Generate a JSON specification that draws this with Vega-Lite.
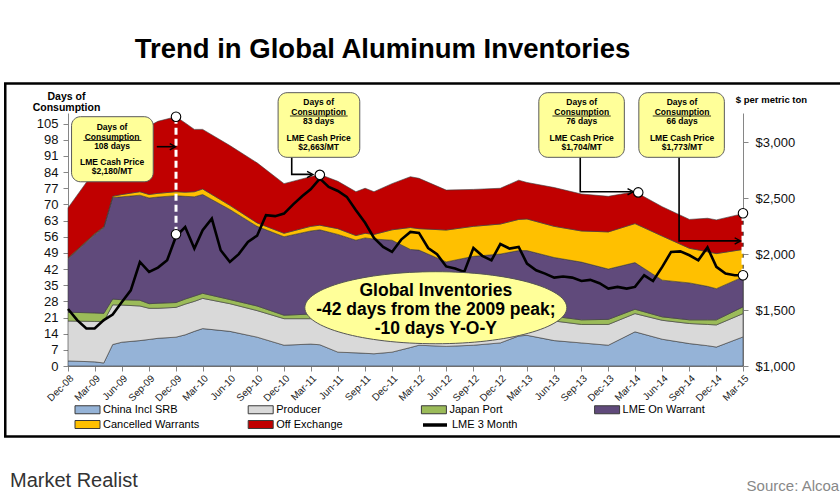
{
  "$schema": "https://vega.github.io/schema/vega-lite/v6.json",
  "width": 675,
  "height": 253,
  "autosize": {"type": "none"},
  "padding": {"left": 68, "top": 113, "right": 97, "bottom": 134},
  "background": "white",
  "config": {"font": "Liberation Sans", "view": {"stroke": null}, "axis": {"labelOverlap": false}},
  "title": {"text": "Trend in Global Aluminum Inventories", "fontSize": 27.5, "font": "Liberation Sans", "fontWeight": "bold", "color": "#000000", "anchor": "middle", "frame": "group", "dx": -23, "offset": 19},
  "datasets": {
    "inv": [
      {"date": "2008-12-01T00:00:00", "C": 2.2, "P": 19.5, "J": 23.3, "W": 46.5, "X": 46.8, "O": 68.5},
      {"date": "2009-03-01T00:00:00", "C": 1.8, "P": 19.3, "J": 23.0, "W": 57.0, "X": 57.3, "O": 84.5},
      {"date": "2009-04-01T00:00:00", "C": 1.3, "P": 19.3, "J": 22.8, "W": 60.0, "X": 60.3, "O": 88.5},
      {"date": "2009-05-01T00:00:00", "C": 9.3, "P": 26.5, "J": 29.0, "W": 73.0, "X": 73.5, "O": 92.0},
      {"date": "2009-06-01T00:00:00", "C": 10.3, "P": 26.4, "J": 28.7, "W": 73.3, "X": 74.3, "O": 95.5},
      {"date": "2009-08-01T00:00:00", "C": 11.0, "P": 26.0, "J": 28.5, "W": 74.0, "X": 75.5, "O": 102.0},
      {"date": "2009-09-01T00:00:00", "C": 11.5, "P": 25.0, "J": 27.0, "W": 72.8, "X": 74.3, "O": 104.0},
      {"date": "2009-10-01T00:00:00", "C": 12.0, "P": 25.0, "J": 27.2, "W": 73.2, "X": 74.8, "O": 106.0},
      {"date": "2009-12-01T00:00:00", "C": 12.5, "P": 25.4, "J": 27.5, "W": 73.8, "X": 75.5, "O": 108.0},
      {"date": "2010-01-01T00:00:00", "C": 13.5, "P": 26.8, "J": 29.0, "W": 73.5, "X": 75.3, "O": 105.3},
      {"date": "2010-02-01T00:00:00", "C": 15.0, "P": 28.0, "J": 30.3, "W": 73.3, "X": 75.5, "O": 102.5},
      {"date": "2010-03-01T00:00:00", "C": 16.2, "P": 29.3, "J": 31.5, "W": 74.3, "X": 76.7, "O": 102.5},
      {"date": "2010-06-01T00:00:00", "C": 15.0, "P": 27.0, "J": 28.8, "W": 67.8, "X": 69.6, "O": 95.5},
      {"date": "2010-09-01T00:00:00", "C": 12.5, "P": 24.0, "J": 26.0, "W": 60.5, "X": 62.0, "O": 88.0},
      {"date": "2010-12-01T00:00:00", "C": 9.0, "P": 20.5, "J": 22.0, "W": 56.0, "X": 57.5, "O": 79.0},
      {"date": "2011-03-01T00:00:00", "C": 9.5, "P": 20.5, "J": 22.5, "W": 58.5, "X": 60.5, "O": 82.0},
      {"date": "2011-04-01T00:00:00", "C": 9.2, "P": 20.3, "J": 22.3, "W": 59.0, "X": 61.0, "O": 83.0},
      {"date": "2011-06-01T00:00:00", "C": 6.0, "P": 19.0, "J": 21.0, "W": 57.0, "X": 59.5, "O": 80.0},
      {"date": "2011-08-01T00:00:00", "C": 5.7, "P": 19.0, "J": 21.0, "W": 54.5, "X": 56.5, "O": 75.5},
      {"date": "2011-09-01T00:00:00", "C": 5.5, "P": 19.0, "J": 21.0, "W": 55.5, "X": 57.5, "O": 77.0},
      {"date": "2011-10-01T00:00:00", "C": 5.3, "P": 19.0, "J": 21.0, "W": 55.0, "X": 57.0, "O": 75.5},
      {"date": "2011-12-01T00:00:00", "C": 6.0, "P": 19.0, "J": 21.0, "W": 54.5, "X": 59.0, "O": 79.0},
      {"date": "2012-02-01T00:00:00", "C": 8.0, "P": 19.0, "J": 21.0, "W": 50.5, "X": 60.0, "O": 82.0},
      {"date": "2012-03-01T00:00:00", "C": 9.0, "P": 19.0, "J": 21.0, "W": 50.2, "X": 59.5, "O": 81.3},
      {"date": "2012-06-01T00:00:00", "C": 8.5, "P": 19.0, "J": 21.0, "W": 45.1, "X": 58.9, "O": 76.2},
      {"date": "2012-09-01T00:00:00", "C": 9.0, "P": 19.5, "J": 21.5, "W": 47.5, "X": 60.5, "O": 76.5},
      {"date": "2012-12-01T00:00:00", "C": 10.0, "P": 20.0, "J": 22.0, "W": 48.5, "X": 61.5, "O": 77.0},
      {"date": "2013-02-01T00:00:00", "C": 13.0, "P": 21.0, "J": 23.0, "W": 50.0, "X": 63.5, "O": 80.5},
      {"date": "2013-03-01T00:00:00", "C": 13.3, "P": 21.0, "J": 23.0, "W": 50.0, "X": 63.7, "O": 79.5},
      {"date": "2013-06-01T00:00:00", "C": 11.0, "P": 19.5, "J": 21.5, "W": 47.0, "X": 60.5, "O": 77.3},
      {"date": "2013-09-01T00:00:00", "C": 10.0, "P": 18.0, "J": 20.0, "W": 45.0, "X": 58.5, "O": 74.5},
      {"date": "2013-12-01T00:00:00", "C": 9.0, "P": 18.0, "J": 20.2, "W": 42.0, "X": 58.1, "O": 73.5},
      {"date": "2014-03-01T00:00:00", "C": 14.8, "P": 22.7, "J": 24.6, "W": 44.8, "X": 61.7, "O": 75.5},
      {"date": "2014-06-01T00:00:00", "C": 11.6, "P": 19.8, "J": 21.3, "W": 37.2, "X": 56.3, "O": 69.0},
      {"date": "2014-09-01T00:00:00", "C": 9.7, "P": 18.4, "J": 20.0, "W": 36.0, "X": 51.0, "O": 63.5},
      {"date": "2014-11-01T00:00:00", "C": 8.8, "P": 18.0, "J": 20.0, "W": 34.5, "X": 49.5, "O": 64.0},
      {"date": "2014-12-01T00:00:00", "C": 8.2, "P": 17.8, "J": 20.0, "W": 33.5, "X": 48.7, "O": 63.3},
      {"date": "2015-03-01T00:00:00", "C": 12.6, "P": 22.7, "J": 25.6, "W": 38.6, "X": 50.5, "O": 66.0}
    ],
    "lme": [
      {"date": "2008-12-01T00:00:00", "price": 1510},
      {"date": "2009-01-01T00:00:00", "price": 1410},
      {"date": "2009-02-01T00:00:00", "price": 1335},
      {"date": "2009-03-01T00:00:00", "price": 1335},
      {"date": "2009-04-01T00:00:00", "price": 1410},
      {"date": "2009-05-01T00:00:00", "price": 1460},
      {"date": "2009-06-01T00:00:00", "price": 1572},
      {"date": "2009-07-01T00:00:00", "price": 1677},
      {"date": "2009-08-01T00:00:00", "price": 1930},
      {"date": "2009-09-01T00:00:00", "price": 1841},
      {"date": "2009-10-01T00:00:00", "price": 1880},
      {"date": "2009-11-01T00:00:00", "price": 1945},
      {"date": "2009-12-01T00:00:00", "price": 2160},
      {"date": "2010-01-01T00:00:00", "price": 2243},
      {"date": "2010-02-01T00:00:00", "price": 2050},
      {"date": "2010-03-01T00:00:00", "price": 2214},
      {"date": "2010-04-01T00:00:00", "price": 2318},
      {"date": "2010-05-01T00:00:00", "price": 2035},
      {"date": "2010-06-01T00:00:00", "price": 1930},
      {"date": "2010-07-01T00:00:00", "price": 2000},
      {"date": "2010-08-01T00:00:00", "price": 2110},
      {"date": "2010-09-01T00:00:00", "price": 2165},
      {"date": "2010-10-01T00:00:00", "price": 2348},
      {"date": "2010-11-01T00:00:00", "price": 2340},
      {"date": "2010-12-01T00:00:00", "price": 2363},
      {"date": "2011-01-01T00:00:00", "price": 2445},
      {"date": "2011-02-01T00:00:00", "price": 2520},
      {"date": "2011-03-01T00:00:00", "price": 2580},
      {"date": "2011-04-01T00:00:00", "price": 2675},
      {"date": "2011-05-01T00:00:00", "price": 2601},
      {"date": "2011-06-01T00:00:00", "price": 2565},
      {"date": "2011-07-01T00:00:00", "price": 2512},
      {"date": "2011-08-01T00:00:00", "price": 2393},
      {"date": "2011-09-01T00:00:00", "price": 2280},
      {"date": "2011-10-01T00:00:00", "price": 2145},
      {"date": "2011-11-01T00:00:00", "price": 2064},
      {"date": "2011-12-01T00:00:00", "price": 2020},
      {"date": "2012-01-01T00:00:00", "price": 2130},
      {"date": "2012-02-01T00:00:00", "price": 2199},
      {"date": "2012-03-01T00:00:00", "price": 2190},
      {"date": "2012-04-01T00:00:00", "price": 2055},
      {"date": "2012-05-01T00:00:00", "price": 2000},
      {"date": "2012-06-01T00:00:00", "price": 1890},
      {"date": "2012-07-01T00:00:00", "price": 1871},
      {"date": "2012-08-01T00:00:00", "price": 1841},
      {"date": "2012-09-01T00:00:00", "price": 2055},
      {"date": "2012-10-01T00:00:00", "price": 1985},
      {"date": "2012-11-01T00:00:00", "price": 1945},
      {"date": "2012-12-01T00:00:00", "price": 2090},
      {"date": "2013-01-01T00:00:00", "price": 2050},
      {"date": "2013-02-01T00:00:00", "price": 2064},
      {"date": "2013-03-01T00:00:00", "price": 1916},
      {"date": "2013-04-01T00:00:00", "price": 1856},
      {"date": "2013-05-01T00:00:00", "price": 1826},
      {"date": "2013-06-01T00:00:00", "price": 1790},
      {"date": "2013-07-01T00:00:00", "price": 1800},
      {"date": "2013-08-01T00:00:00", "price": 1790},
      {"date": "2013-09-01T00:00:00", "price": 1760},
      {"date": "2013-10-01T00:00:00", "price": 1770},
      {"date": "2013-11-01T00:00:00", "price": 1740},
      {"date": "2013-12-01T00:00:00", "price": 1692},
      {"date": "2014-01-01T00:00:00", "price": 1707},
      {"date": "2014-02-01T00:00:00", "price": 1692},
      {"date": "2014-03-01T00:00:00", "price": 1707},
      {"date": "2014-04-01T00:00:00", "price": 1811},
      {"date": "2014-05-01T00:00:00", "price": 1760},
      {"date": "2014-06-01T00:00:00", "price": 1886},
      {"date": "2014-07-01T00:00:00", "price": 2020},
      {"date": "2014-08-01T00:00:00", "price": 2025},
      {"date": "2014-09-01T00:00:00", "price": 1990},
      {"date": "2014-10-01T00:00:00", "price": 1945},
      {"date": "2014-11-01T00:00:00", "price": 2060},
      {"date": "2014-12-01T00:00:00", "price": 1886},
      {"date": "2015-01-01T00:00:00", "price": 1826},
      {"date": "2015-02-01T00:00:00", "price": 1811},
      {"date": "2015-03-01T00:00:00", "price": 1811}
    ],
    "frame": [
      {"x1": "2008-05-03T00:00:00", "x2": "2016-02-05T00:00:00", "top": 122.4, "bot": -30.5}
    ],
    "dash": [
      {"date": "2009-12-01T00:00:00", "top": 108.0, "bot": 57.1},
      {"date": "2015-03-01T00:00:00", "top": 66.0, "bot": 39.3}
    ],
    "conn": [
      {"id": "a", "seq": 1, "date": "2009-09-27T00:00:00", "days": 95.0},
      {"id": "a", "seq": 2, "date": "2009-11-24T00:00:00", "days": 95.0},
      {"id": "b", "seq": 1, "date": "2010-12-27T00:00:00", "days": 90.4},
      {"id": "b", "seq": 2, "date": "2010-12-27T00:00:00", "days": 83.0},
      {"id": "b", "seq": 3, "date": "2011-03-03T00:00:00", "days": 83.0},
      {"id": "c", "seq": 1, "date": "2013-08-28T00:00:00", "days": 90.4},
      {"id": "c", "seq": 2, "date": "2013-08-28T00:00:00", "days": 75.5},
      {"id": "c", "seq": 3, "date": "2014-02-18T00:00:00", "days": 75.5},
      {"id": "d", "seq": 1, "date": "2014-07-28T00:00:00", "days": 90.4},
      {"id": "d", "seq": 2, "date": "2014-07-28T00:00:00", "days": 54.2},
      {"id": "d", "seq": 3, "date": "2015-02-15T00:00:00", "days": 54.2}
    ],
    "heads": [
      {"date": "2009-11-24T00:00:00", "days": 95.0},
      {"date": "2011-03-03T00:00:00", "days": 83.0},
      {"date": "2014-02-18T00:00:00", "days": 75.5},
      {"date": "2015-02-15T00:00:00", "days": 54.2}
    ],
    "boxes": [
      {"x1": "2008-12-13T00:00:00", "x2": "2009-09-15T00:00:00", "top": 108.0, "bot": 79.8},
      {"x1": "2010-11-11T00:00:00", "x2": "2011-08-14T00:00:00", "top": 118.4, "bot": 90.4},
      {"x1": "2013-04-10T00:00:00", "x2": "2014-01-24T00:00:00", "top": 118.4, "bot": 90.4},
      {"x1": "2014-03-14T00:00:00", "x2": "2014-12-28T00:00:00", "top": 118.4, "bot": 90.4}
    ],
    "btext": [
      {"date": "2009-04-29T00:00:00", "days": 103.4, "label": "Days of\nConsumption\n108 days"},
      {"date": "2009-04-29T00:00:00", "days": 88.5, "label": "LME Cash Price\n$2,180/MT"},
      {"date": "2011-03-28T00:00:00", "days": 114.3, "label": "Days of\nConsumption\n83 days"},
      {"date": "2011-03-28T00:00:00", "days": 98.9, "label": "LME Cash Price\n$2,663/MT"},
      {"date": "2013-09-02T00:00:00", "days": 114.3, "label": "Days of\nConsumption\n76 days"},
      {"date": "2013-09-02T00:00:00", "days": 98.9, "label": "LME Cash Price\n$1,704/MT"},
      {"date": "2014-08-07T00:00:00", "days": 114.3, "label": "Days of\nConsumption\n66 days"},
      {"date": "2014-08-07T00:00:00", "days": 98.9, "label": "LME Cash Price\n$1,773/MT"}
    ],
    "ul": [
      {"x1": "2009-01-22T00:00:00", "x2": "2009-08-06T00:00:00", "days": 97.7},
      {"x1": "2010-12-21T00:00:00", "x2": "2011-07-04T00:00:00", "days": 108.3},
      {"x1": "2013-05-26T00:00:00", "x2": "2013-12-09T00:00:00", "days": 108.3},
      {"x1": "2014-04-30T00:00:00", "x2": "2014-11-13T00:00:00", "days": 108.3}
    ],
    "ell": [
      {"date": "2012-04-27T00:00:00", "days": 25.25}
    ],
    "elltext": [
      {"date": "2012-04-27T00:00:00", "days": 32.4, "label": "Global Inventories\n-42 days from the 2009 peak;\n-10 days Y-O-Y"}
    ],
    "dots": [
      {"date": "2009-12-01T00:00:00", "days": 108.0},
      {"date": "2009-12-01T00:00:00", "days": 57.1},
      {"date": "2011-04-01T00:00:00", "days": 82.8},
      {"date": "2014-03-12T00:00:00", "days": 75.2},
      {"date": "2015-03-01T00:00:00", "days": 66.2},
      {"date": "2015-03-01T00:00:00", "days": 39.3}
    ],
    "brand": [
      {"date": "2008-05-19T00:00:00", "days": -50.0, "label": "Market Realist"}
    ],
    "source": [
      {"date": "2016-01-20T00:00:00", "days": -51.8, "label": "Source: Alcoa"}
    ]
  },
  "layer": [
    {
      "layer": [
        {
          "data": {"name": "inv"},
          "mark": {"type": "area", "stroke": "#3a3a3a", "strokeWidth": 0.6},
          "encoding": {
            "x": {
              "field": "date", "type": "temporal",
              "scale": {"domain": [{"year": 2008, "month": 12, "date": 1}, {"year": 2015, "month": 3, "date": 1}]},
              "axis": {
                "values": [
                  {"year": 2008, "month": 12, "date": 1},
                  {"year": 2009, "month": 3, "date": 1}, {"year": 2009, "month": 6, "date": 1}, {"year": 2009, "month": 9, "date": 1}, {"year": 2009, "month": 12, "date": 1},
                  {"year": 2010, "month": 3, "date": 1}, {"year": 2010, "month": 6, "date": 1}, {"year": 2010, "month": 9, "date": 1}, {"year": 2010, "month": 12, "date": 1},
                  {"year": 2011, "month": 3, "date": 1}, {"year": 2011, "month": 6, "date": 1}, {"year": 2011, "month": 9, "date": 1}, {"year": 2011, "month": 12, "date": 1},
                  {"year": 2012, "month": 3, "date": 1}, {"year": 2012, "month": 6, "date": 1}, {"year": 2012, "month": 9, "date": 1}, {"year": 2012, "month": 12, "date": 1},
                  {"year": 2013, "month": 3, "date": 1}, {"year": 2013, "month": 6, "date": 1}, {"year": 2013, "month": 9, "date": 1}, {"year": 2013, "month": 12, "date": 1},
                  {"year": 2014, "month": 3, "date": 1}, {"year": 2014, "month": 6, "date": 1}, {"year": 2014, "month": 9, "date": 1}, {"year": 2014, "month": 12, "date": 1},
                  {"year": 2015, "month": 3, "date": 1}
                ],
                "tickCount": 200,
                "format": "%b-%y", "labelAngle": -45, "labelFontSize": 10, "labelColor": "#222222",
                "domainColor": "#868686", "tickColor": "#868686", "tickSize": 5, "grid": false, "title": null,
                "labelPadding": 2, "labelOverlap": false, "labelFlush": false, "labelBound": false
              }
            },
            "y": {
              "field": "C", "type": "quantitative",
              "scale": {"domain": [0, 109.6], "nice": false},
              "axis": {
                "values": [0, 7, 14, 21, 28, 35, 42, 49, 56, 63, 70, 77, 84, 91, 98, 105],
                "tickCount": 200, "format": ".0f",
                "labelFontSize": 13, "labelColor": "#111111", "labelPadding": 5, "labelOverlap": false,
                "domainColor": "#868686", "tickColor": "#868686", "tickSize": 5, "grid": false,
                "title": ["Days of", "Consumption"], "titleAngle": 0, "titleAlign": "center", "titleBaseline": "bottom",
                "titleX": -2, "titleY": -12, "titleFontSize": 10.5, "titleFontWeight": "bold", "titleLineHeight": 11, "titleColor": "#000000"
              }
            },
            "y2": {"datum": 0},
            "fill": {
              "datum": "China Incl SRB", "type": "nominal",
              "scale": {
                "domain": ["China Incl SRB", "Producer", "Japan Port", "LME On Warrant", "Cancelled Warrants", "Off Exchange"],
                "range": ["#95B3D7", "#D9D9D9", "#9BBB59", "#604A7B", "#FFC000", "#C00000"]
              },
              "legend": {
                "orient": "none", "legendX": 14, "legendY": 291, "direction": "horizontal", "columns": 4,
                "gridAlign": "all", "columnPadding": 46.2, "rowPadding": 2, "title": null, "padding": 0,
                "symbolType": "M-2.5,-0.8H2.5V0.8H-2.5Z", "symbolSize": 100, "symbolStrokeColor": "#000000", "symbolStrokeWidth": 1,
                "labelFontSize": 11, "labelColor": "#000000", "labelOffset": 10
              }
            }
          }
        },
        {
          "data": {"name": "inv"},
          "mark": {"type": "area", "stroke": "#3a3a3a", "strokeWidth": 0.6},
          "encoding": {
            "x": {"field": "date", "type": "temporal"},
            "y": {"field": "P", "type": "quantitative", "scale": {"domain": [0, 109.6], "nice": false}},
            "y2": {"field": "C"},
            "fill": {"datum": "Producer", "type": "nominal"}
          }
        },
        {
          "data": {"name": "inv"},
          "mark": {"type": "area", "stroke": "#3a3a3a", "strokeWidth": 0.6},
          "encoding": {
            "x": {"field": "date", "type": "temporal"},
            "y": {"field": "J", "type": "quantitative", "scale": {"domain": [0, 109.6], "nice": false}},
            "y2": {"field": "P"},
            "fill": {"datum": "Japan Port", "type": "nominal"}
          }
        },
        {
          "data": {"name": "inv"},
          "mark": {"type": "area", "stroke": "#3a3a3a", "strokeWidth": 0.6},
          "encoding": {
            "x": {"field": "date", "type": "temporal"},
            "y": {"field": "W", "type": "quantitative", "scale": {"domain": [0, 109.6], "nice": false}},
            "y2": {"field": "J"},
            "fill": {"datum": "LME On Warrant", "type": "nominal"}
          }
        },
        {
          "data": {"name": "inv"},
          "mark": {"type": "area", "stroke": "#3a3a3a", "strokeWidth": 0.6},
          "encoding": {
            "x": {"field": "date", "type": "temporal"},
            "y": {"field": "X", "type": "quantitative", "scale": {"domain": [0, 109.6], "nice": false}},
            "y2": {"field": "W"},
            "fill": {"datum": "Cancelled Warrants", "type": "nominal"}
          }
        },
        {
          "data": {"name": "inv"},
          "mark": {"type": "area", "stroke": "#3a3a3a", "strokeWidth": 0.6},
          "encoding": {
            "x": {"field": "date", "type": "temporal"},
            "y": {"field": "O", "type": "quantitative", "scale": {"domain": [0, 109.6], "nice": false}},
            "y2": {"field": "X"},
            "fill": {"datum": "Off Exchange", "type": "nominal"}
          }
        }
      ]
    },
    {
      "data": {"name": "lme"},
      "mark": {"type": "line", "strokeWidth": 2.6},
      "encoding": {
        "x": {"field": "date", "type": "temporal"},
        "y": {
          "field": "price", "type": "quantitative",
          "scale": {"domain": [1000, 3262], "nice": false, "zero": false},
          "axis": {
            "orient": "right", "values": [1000, 1500, 2000, 2500, 3000], "tickCount": 200, "format": "$,.0f",
            "labelFontSize": 13, "labelColor": "#111111", "labelPadding": 7, "labelOverlap": false,
            "domainColor": "#868686", "tickColor": "#868686", "tickSize": 5, "grid": false,
            "title": "$ per metric ton", "titleAngle": 0, "titleAlign": "center", "titleBaseline": "bottom",
            "titleX": 28, "titleY": -9, "titleFontSize": 9.5, "titleFontWeight": "bold", "titleColor": "#000000"
          }
        },
        "stroke": {
          "datum": "LME 3 Month", "type": "nominal",
          "scale": {"range": ["#000000"]},
          "legend": {
            "orient": "none", "legendX": 353, "legendY": 298, "title": null, "padding": 0,
            "symbolType": "stroke", "symbolSize": 576, "symbolStrokeWidth": 3.5,
            "labelFontSize": 11, "labelColor": "#000000", "labelOffset": 3
          }
        }
      }
    },
    {
      "layer": [
        {
          "data": {"name": "frame"},
          "mark": {"type": "rect", "fill": "transparent", "stroke": "#000000", "strokeWidth": 2.5},
          "encoding": {
            "x": {"field": "x1", "type": "temporal"},
            "x2": {"field": "x2"},
            "y": {"field": "top", "type": "quantitative", "scale": {"domain": [0, 109.6], "nice": false}, "axis": null},
            "y2": {"field": "bot"}
          }
        },
        {
          "data": {"name": "dash"},
          "mark": {"type": "rule", "stroke": "#FFFFFF", "strokeWidth": 3, "strokeDash": [7, 4]},
          "encoding": {
            "x": {"field": "date", "type": "temporal"},
            "y": {"field": "top", "type": "quantitative", "scale": {"domain": [0, 109.6], "nice": false}, "axis": null},
            "y2": {"field": "bot"}
          }
        },
        {
          "data": {"name": "conn"},
          "mark": {"type": "line", "stroke": "#000000", "strokeWidth": 1.6},
          "encoding": {
            "x": {"field": "date", "type": "temporal"},
            "y": {"field": "days", "type": "quantitative", "scale": {"domain": [0, 109.6], "nice": false}, "axis": null},
            "detail": {"field": "id"},
            "order": {"field": "seq"}
          }
        },
        {
          "data": {"name": "heads"},
          "mark": {"type": "point", "shape": "M-1,-0.75L0.4,0L-1,0.75", "filled": false, "stroke": "#000000", "strokeWidth": 1.4, "size": 70, "opacity": 1},
          "encoding": {
            "x": {"field": "date", "type": "temporal"},
            "y": {"field": "days", "type": "quantitative", "scale": {"domain": [0, 109.6], "nice": false}, "axis": null}
          }
        },
        {
          "data": {"name": "boxes"},
          "mark": {"type": "rect", "fill": "#FFFF99", "stroke": "#5a5a5a", "strokeWidth": 1, "cornerRadius": 9},
          "encoding": {
            "x": {"field": "x1", "type": "temporal"},
            "x2": {"field": "x2"},
            "y": {"field": "top", "type": "quantitative", "scale": {"domain": [0, 109.6], "nice": false}, "axis": null},
            "y2": {"field": "bot"}
          }
        },
        {
          "data": {"name": "btext"},
          "mark": {"type": "text", "fontSize": 8.5, "fontWeight": "bold", "lineBreak": "\n", "lineHeight": 9.6, "align": "center", "baseline": "middle", "color": "#000000"},
          "encoding": {
            "x": {"field": "date", "type": "temporal"},
            "y": {"field": "days", "type": "quantitative", "scale": {"domain": [0, 109.6], "nice": false}, "axis": null},
            "text": {"field": "label"}
          }
        },
        {
          "data": {"name": "ul"},
          "mark": {"type": "rule", "stroke": "#000000", "strokeWidth": 0.8},
          "encoding": {
            "x": {"field": "x1", "type": "temporal"},
            "x2": {"field": "x2"},
            "y": {"field": "days", "type": "quantitative", "scale": {"domain": [0, 109.6], "nice": false}, "axis": null}
          }
        },
        {
          "data": {"name": "ell"},
          "mark": {"type": "point", "shape": "M-1,0A1,0.275,0,1,1,1,0A1,0.275,0,1,1,-1,0Z", "filled": true, "fill": "#FFFF99", "stroke": "#555555", "strokeWidth": 1, "size": 68644, "opacity": 1},
          "encoding": {
            "x": {"field": "date", "type": "temporal"},
            "y": {"field": "days", "type": "quantitative", "scale": {"domain": [0, 109.6], "nice": false}, "axis": null}
          }
        },
        {
          "data": {"name": "elltext"},
          "mark": {"type": "text", "fontSize": 17.5, "fontWeight": "bold", "lineBreak": "\n", "lineHeight": 19, "align": "center", "baseline": "middle", "color": "#000000"},
          "encoding": {
            "x": {"field": "date", "type": "temporal"},
            "y": {"field": "days", "type": "quantitative", "scale": {"domain": [0, 109.6], "nice": false}, "axis": null},
            "text": {"field": "label"}
          }
        },
        {
          "data": {"name": "dots"},
          "mark": {"type": "point", "shape": "circle", "filled": true, "fill": "#FFFFFF", "stroke": "#000000", "strokeWidth": 1.1, "size": 90, "opacity": 1},
          "encoding": {
            "x": {"field": "date", "type": "temporal"},
            "y": {"field": "days", "type": "quantitative", "scale": {"domain": [0, 109.6], "nice": false}, "axis": null}
          }
        },
        {
          "data": {"name": "brand"},
          "mark": {"type": "text", "font": "Liberation Sans Narrow, Arial Narrow, Liberation Sans", "fontSize": 20, "align": "left", "baseline": "middle", "color": "#333333"},
          "encoding": {
            "x": {"field": "date", "type": "temporal"},
            "y": {"field": "days", "type": "quantitative", "scale": {"domain": [0, 109.6], "nice": false}, "axis": null},
            "text": {"field": "label"}
          }
        },
        {
          "data": {"name": "source"},
          "mark": {"type": "text", "font": "Liberation Sans Narrow, Arial Narrow, Liberation Sans", "fontSize": 15, "align": "right", "baseline": "middle", "color": "#888888"},
          "encoding": {
            "x": {"field": "date", "type": "temporal"},
            "y": {"field": "days", "type": "quantitative", "scale": {"domain": [0, 109.6], "nice": false}, "axis": null},
            "text": {"field": "label"}
          }
        }
      ]
    }
  ],
  "resolve": {"scale": {"y": "independent"}}
}
